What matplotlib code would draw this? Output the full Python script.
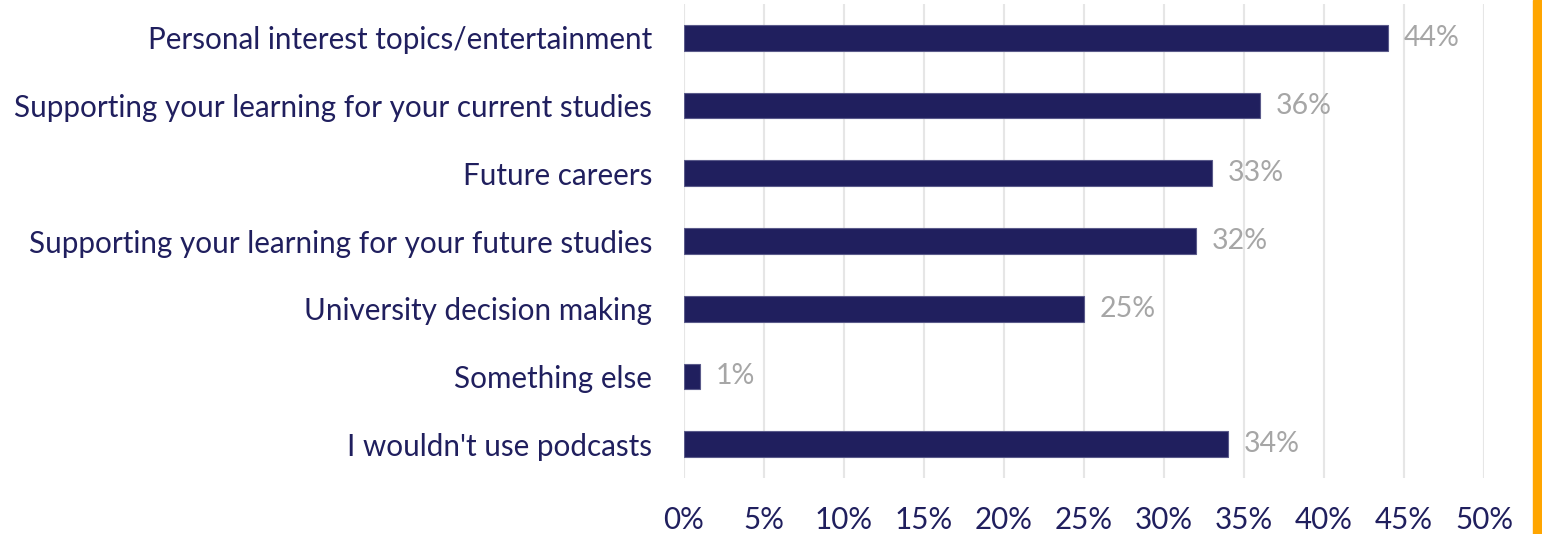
import matplotlib
matplotlib.use("Agg")
import matplotlib.pyplot as plt
from matplotlib.ticker import FuncFormatter

categories = [
    "Personal interest topics/entertainment",
    "Supporting your learning for your current studies",
    "Future careers",
    "Supporting your learning for your future studies",
    "University decision making",
    "Something else",
    "I wouldn't use podcasts",
]
values = [44, 36, 33, 32, 25, 1, 34]
xticks = [0, 5, 10, 15, 20, 25, 30, 35, 40, 45, 50]

navy = "#201F5E"
gray = "#A6A6A6"

plt.rcParams['font.family'] = ['Lato', 'DejaVu Sans']

fig = plt.figure(figsize=(15.42, 5.34), dpi=100)
ax = fig.add_axes([684/1542, 1 - 478/534, 800/1542, 474/534])

y = list(range(len(categories)))
ax.barh(y, values, height=0.38, color=navy, edgecolor="#5a5a8a", linewidth=0.8, zorder=3)
for yi, v in zip(y, values):
    ax.text(v + 1.0, yi, f"{v}%", va="center", ha="left", color=gray, fontsize=20.5)

ax.set_yticks(y)
ax.set_yticklabels(categories, fontsize=21.3, color=navy)
ax.set_xticks(xticks)
ax.xaxis.set_major_formatter(FuncFormatter(lambda v, p: f"{int(v)}%"))
ax.tick_params(axis='x', labelsize=21.3, labelcolor=navy, length=0, pad=20)
ax.tick_params(axis='y', length=0, pad=23)
ax.set_xlim(0, 50)
ax.set_ylim(len(categories) - 0.5, -0.5)
ax.grid(axis='x', color="#E6E6E6", linewidth=1.5, zorder=0)
for s in ax.spines.values():
    s.set_visible(False)

fig.patches.append(plt.Rectangle((1533/1542, 0), 9/1542, 1, transform=fig.transFigure,
                                 color="#FFA500", zorder=5))

fig.savefig("out.png", dpi=100)
